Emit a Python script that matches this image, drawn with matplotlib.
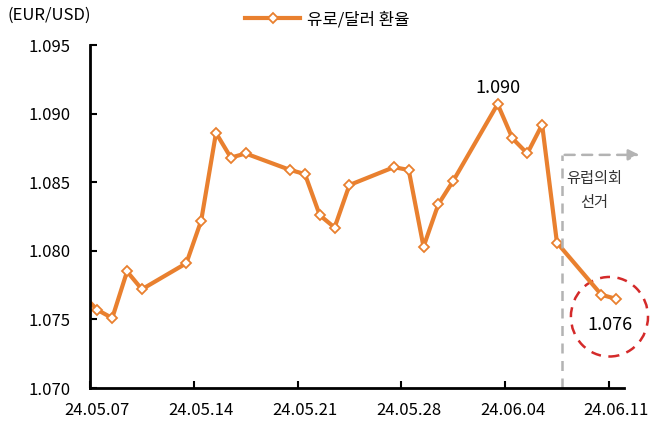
import matplotlib
import matplotlib.pyplot as plt
import matplotlib.dates as mdates
from matplotlib.patches import Ellipse
import pandas as pd

matplotlib.use("Agg")

plt.rcParams["font.family"] = ["Noto Sans CJK KR", "DejaVu Sans"]

# 유로/달러 환율 (일별)
dates = [
    "2024-05-06", "2024-05-07", "2024-05-08", "2024-05-09", "2024-05-10",
    "2024-05-13", "2024-05-14", "2024-05-15", "2024-05-16", "2024-05-17",
    "2024-05-20", "2024-05-21", "2024-05-22", "2024-05-23", "2024-05-24",
    "2024-05-27", "2024-05-28", "2024-05-29", "2024-05-30", "2024-05-31",
    "2024-06-03", "2024-06-04", "2024-06-05", "2024-06-06", "2024-06-07",
    "2024-06-10", "2024-06-11",
]
eurusd = [
    1.0768, 1.0757, 1.0751, 1.0785, 1.0772,
    1.0791, 1.0822, 1.0886, 1.0868, 1.0871,
    1.0859, 1.0856, 1.0826, 1.0817, 1.0848,
    1.0861, 1.0859, 1.0803, 1.0834, 1.0851,
    1.0907, 1.0882, 1.0871, 1.0892, 1.0806,
    1.0768, 1.0765,
]
tick_dates = ["2024-05-07", "2024-05-14", "2024-05-21", "2024-05-28", "2024-06-04", "2024-06-11"]
tick_labels = ["24.05.07", "24.05.14", "24.05.21", "24.05.28", "24.06.04", "24.06.11"]
y_ticks = [1.070, 1.075, 1.080, 1.085, 1.090, 1.095]
election_date = "2024-06-07 08:00"
peak_label = "1.090"
last_label = "1.076"

orange = "#E9802F"
grey = "#b3b3b3"
half_day = pd.Timedelta(hours=12)

x = pd.to_datetime(dates)
xt = pd.to_datetime(tick_dates)

fig = plt.figure(figsize=(6.54, 4.38), dpi=100)
ax = fig.add_axes([0.1376, 0.114, 0.816, 0.783])

ax.plot(x, eurusd, color=orange, linewidth=3, marker="D", markersize=5.5,
        markerfacecolor="white", markeredgecolor=orange, markeredgewidth=1.3,
        label="유로/달러 환율")

ax.set_xlim(xt[0] - half_day, xt[-1] + half_day)
ax.set_ylim(y_ticks[0], y_ticks[-1])

# 눈금선은 날짜 경계에, 라벨은 날짜 중앙에
ax.set_xticks(xt - half_day)
ax.set_xticklabels([])
ax.set_xticks(xt, minor=True)
ax.set_xticklabels(tick_labels, minor=True, fontsize=12)
ax.tick_params(axis="x", which="major", direction="in", length=5, width=1.5)
ax.tick_params(axis="x", which="minor", length=0, pad=10)

ax.set_yticks(y_ticks)
ax.set_yticklabels([f"{v:.3f}" for v in y_ticks], fontsize=12)
ax.tick_params(axis="y", direction="in", length=5, width=1.5, pad=14)

for side in ["top", "right"]:
    ax.spines[side].set_visible(False)
for side in ["left", "bottom"]:
    ax.spines[side].set_linewidth(2)

# 유럽의회 선거 표시
ex = pd.to_datetime(election_date)
ax.plot([ex, ex], [y_ticks[0], 1.0870], color=grey, linewidth=1.8,
        linestyle=(0, (4, 3)), clip_on=False)
ax.annotate("", xy=(xt[-1] + pd.Timedelta(hours=42), 1.0870), xytext=(ex, 1.0870),
            arrowprops=dict(arrowstyle="-|>", color=grey, linewidth=1.8,
                            linestyle=(0, (4, 3)), mutation_scale=16),
            annotation_clip=False)
ax.text(pd.to_datetime("2024-06-09 12:00"), 1.0844, "유럽의회\n선거", ha="center",
        va="center", fontsize=11, linespacing=1.6, color="#333333")

# 고점, 최근값 표시
ax.text(x[20], 1.0919, peak_label, ha="center", va="center", fontsize=13)
ax.text(pd.to_datetime("2024-06-10 14:00"), 1.0746, last_label, ha="center",
        va="center", fontsize=13)
ax.add_patch(Ellipse((mdates.date2num(pd.to_datetime("2024-06-10 13:00")), 1.0752),
                     width=5.2, height=0.0058, fill=False, edgecolor="#d42a2a",
                     linewidth=1.8, linestyle=(0, (4, 3)), clip_on=False))

fig.text(0.012, 0.965, "(EUR/USD)", fontsize=12, va="center", ha="left")
fig.legend(loc="center left", bbox_to_anchor=(0.365, 0.955), frameon=False,
           fontsize=12, handlelength=3.3, handletextpad=0.4, borderaxespad=0)

plt.savefig("out.png", dpi=100)
plt.close()
